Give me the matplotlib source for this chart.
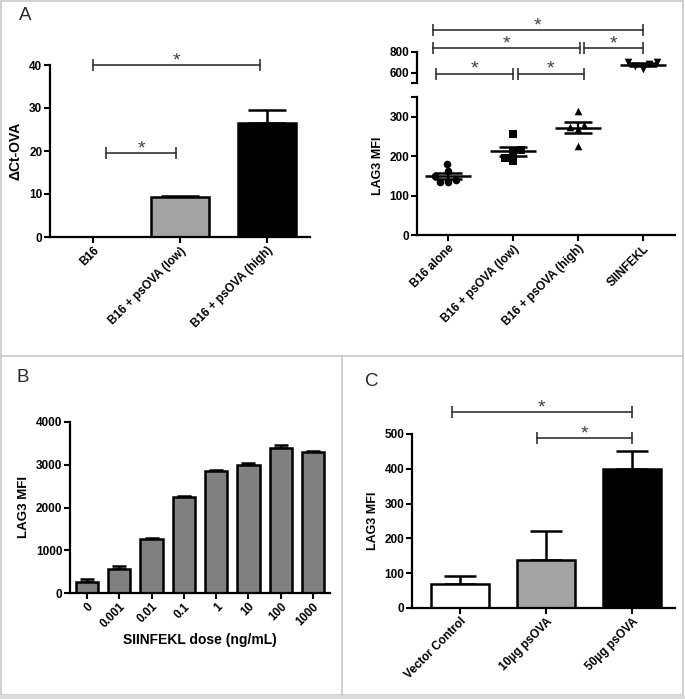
import numpy as np
import matplotlib
matplotlib.use("Agg")
import matplotlib.pyplot as plt
import seaborn as sns
from matplotlib.lines import Line2D
from matplotlib.patches import Rectangle

# panel A (left): dCt-OVA
a1_labels = ["B16", "B16 + psOVA (low)", "B16 + psOVA (high)"]
a1_means = [0, 9.2, 26.6]
a1_err = [0, 0.3, 3.0]
a1_colors = ["white", "#a3a3a3", "black"]

# panel A (right): LAG3 MFI per mouse
a2_labels = ["B16 alone", "B16 + psOVA (low)", "B16 + psOVA (high)", "SIINFEKL"]
a2_b16 = [181, 162, 150, 140, 135, 135]
a2_low = [255, 215, 210, 195, 188]
a2_high = [315, 280, 275, 268, 225]
a2_siin = [705, 700, 680, 660, 640]
a2_markers = ["o", "s", "^", "v"]

# panel B: dose response
b_labels = ["0", "0.001", "0.01", "0.1", "1", "10", "100", "1000"]
b_means = [250, 570, 1265, 2240, 2850, 3000, 3390, 3300]
b_err = [70, 70, 25, 25, 30, 40, 80, 25]

# panel C
c_labels = ["Vector Control", "10\u00b5g psOVA", "50\u00b5g psOVA"]
c_means = [68, 138, 400]
c_err = [24, 82, 50]
c_colors = ["white", "#a3a3a3", "black"]

FONT = ["Liberation Sans", "DejaVu Sans"]
plt.rcParams["font.family"] = FONT
plt.rcParams["font.weight"] = "bold"
TICK = 8.5

W, H = 685, 699
fig = plt.figure(figsize=(W / 100, H / 100), dpi=100)


def px_axes(left, top, right, bottom):
    return fig.add_axes([left / W, 1 - bottom / H, (right - left) / W, (bottom - top) / H])


def style(ax, left_only=False):
    for s in ["top", "right"]:
        ax.spines[s].set_visible(False)
    if left_only:
        ax.spines["bottom"].set_visible(False)
        ax.tick_params(axis="x", bottom=False, labelbottom=False)
    for s in ["left", "bottom"]:
        ax.spines[s].set_linewidth(1.6)
    ax.tick_params(width=1.5, length=4, labelsize=TICK, pad=1.5)
    for t in ax.get_yticklabels():
        t.set_fontweight("bold")


def bracket(ax, x1, x2, y, star=True):
    ax.plot([x1, x2], [y, y], color="#333333", lw=1.2, clip_on=False)
    ax.plot([x1, x2], [y, y], color="#333333", ls="none", marker="|", ms=9, mew=1.2, clip_on=False)
    if star:
        ax.text((x1 + x2) / 2, y, "*", ha="center", va="baseline", fontsize=14,
                color="#404040", fontweight="normal", clip_on=False)


def xlabels(ax, labels, size=TICK):
    ax.set_xticks(range(len(labels)))
    ax.set_xticklabels(labels, rotation=45, ha="right", rotation_mode="anchor",
                       fontsize=size, fontweight="bold")


def bar_panel(ax, means, err, colors, capsize, width=0.67):
    x = np.arange(len(means))
    ax.bar(x, means, width=width, color=colors, edgecolor="black", linewidth=1.8, zorder=2)
    ax.errorbar(x, means, yerr=[np.zeros(len(err)), err], fmt="none", ecolor="black",
                elinewidth=1.8, capsize=capsize, capthick=1.8, zorder=1)


# ---- A left
ax1 = px_axes(50, 65, 310, 237)
bar_panel(ax1, a1_means, a1_err, a1_colors, capsize=14)
ax1.set_xlim(-0.5, 2.5)
ax1.set_ylim(0, 40)
ax1.set_yticks([0, 10, 20, 30, 40])
xlabels(ax1, a1_labels)
ax1.set_ylabel("\u0394Ct-OVA", fontsize=10, fontweight="bold", labelpad=5)
style(ax1)
bracket(ax1, 0.0, 1.92, 40)
bracket(ax1, 0.15, 0.95, 19.5)

# ---- A right (broken axis)
groups = [a2_b16, a2_low, a2_high, a2_siin]
ax2 = px_axes(417, 97, 675, 235)
ax3 = px_axes(417, 52, 675, 83)
ax2.set_ylim(0, 350)
ax3.set_ylim(500, 800)
for ax in (ax2, ax3):
    ax.set_xlim(-0.48, 3.5)
for i, (vals, m) in enumerate(zip(groups, a2_markers)):
    ax = ax3 if i == 3 else ax2
    sns.swarmplot(x=[a2_labels[i]] * len(vals), y=vals, order=a2_labels, marker=m,
                  color="black", size=5.5, ax=ax, zorder=3, clip_on=False)
    mean = np.mean(vals)
    sem = np.std(vals, ddof=1) / np.sqrt(len(vals))
    ax.errorbar(i, mean, yerr=sem, fmt="_", ms=33, mew=1.8, color="black",
                elinewidth=1.6, capsize=10, capthick=1.6, zorder=4, clip_on=False)
for ax in (ax2, ax3):
    ax.set_xlim(-0.48, 3.5)
    ax.set_xlabel("")
    ax.set_ylabel("")
ax2.set_ylim(0, 350)
ax2.set_yticks([0, 100, 200, 300, 350])
ax2.set_yticklabels(["0", "100", "200", "300", ""])
xlabels(ax2, a2_labels)
ax2.set_ylabel("LAG3 MFI", fontsize=9, fontweight="bold", labelpad=4)
style(ax2)
ax3.set_ylim(500, 800)
ax3.set_yticks([500, 600, 800])
ax3.set_yticklabels(["", "600", "800"])
style(ax3, left_only=True)
bracket(ax3, -0.23, 3.0, 1010)
bracket(ax3, -0.23, 2.03, 838)
bracket(ax3, 2.1, 3.0, 838)
bracket(ax3, -0.18, 1.0, 590)
bracket(ax3, 1.08, 2.09, 590)

# ---- B
ax4 = px_axes(70, 422, 330, 593)
bar_panel(ax4, b_means, b_err, ["#808080"] * len(b_means), capsize=4.8, width=0.69)
ax4.set_xlim(-0.53, 7.53)
ax4.set_ylim(0, 4000)
ax4.set_yticks([0, 1000, 2000, 3000, 4000])
xlabels(ax4, b_labels)
ax4.set_ylabel("LAG3 MFI", fontsize=9.5, fontweight="bold", labelpad=4)
ax4.set_xlabel("SIINFEKL dose (ng/mL)", fontsize=10, fontweight="bold", labelpad=2)
style(ax4)

# ---- C
ax5 = px_axes(412, 434, 675, 608)
bar_panel(ax5, c_means, c_err, c_colors, capsize=11.5)
ax5.set_xlim(-0.56, 2.5)
ax5.set_ylim(0, 500)
ax5.set_yticks([0, 100, 200, 300, 400, 500])
xlabels(ax5, c_labels)
ax5.set_ylabel("LAG3 MFI", fontsize=9, fontweight="bold", labelpad=4)
style(ax5)
bracket(ax5, -0.1, 2.0, 563)
bracket(ax5, 0.9, 2.0, 488)

# panel letters and frames
for letter, x, y in [("A", 25, 15), ("B", 23, 377), ("C", 372, 382)]:
    fig.text(x / W, 1 - y / H, letter, fontsize=13.5, fontweight="normal",
             color="#2a2a2a", ha="center", va="center")

frame = "#c8c8c8"
fig.add_artist(Rectangle((1 / W, 1 - 695 / H), 682 / W, 694 / H, transform=fig.transFigure,
                         fill=False, edgecolor=frame, lw=1.2))
fig.add_artist(Line2D([1 / W, 683 / W], [1 - 356 / H] * 2, color=frame, lw=1.2))
fig.add_artist(Line2D([342 / W] * 2, [1 - 356 / H, 1 - 695 / H], color=frame, lw=1.2))
fig.add_artist(Rectangle((0, 0), 1, 4 / H, transform=fig.transFigure, color="#dcdcdc", lw=0))

fig.savefig("out.png", dpi=100)
